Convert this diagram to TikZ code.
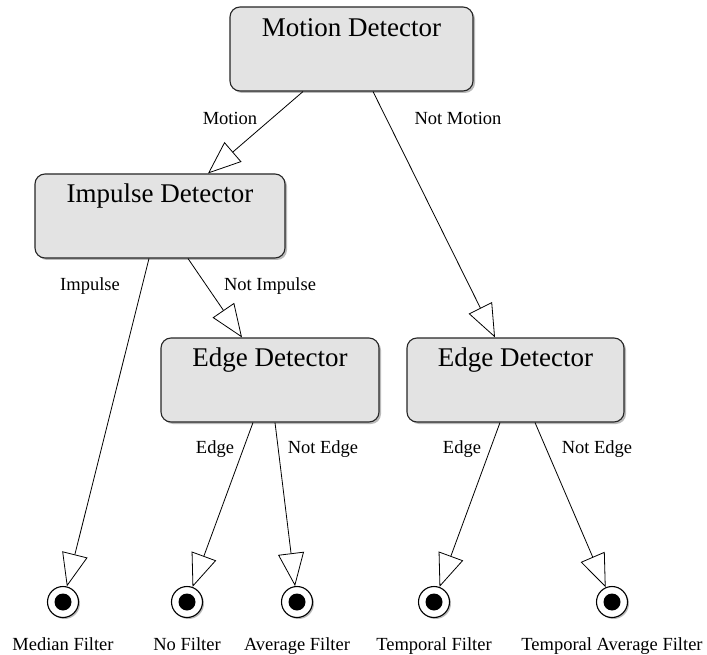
\documentclass[tikz,border=0pt]{standalone}
\usepackage{fontspec}
\setmainfont{Liberation Serif}
\usetikzlibrary{arrows.meta,shadows}

\tikzset{
  detector/.style={draw=black!85,line width=1.1pt,rounded corners=10pt,fill=black!11,
    inner sep=0pt,drop shadow={shadow xshift=2pt,shadow yshift=-2pt,fill=black!45,opacity=0.6}},
  title/.style={anchor=base,font=\fontsize{27}{30}\selectfont},
  guard/.style={font=\fontsize{18.5}{20}\selectfont},
  final/.style={circle,draw=black,line width=1.1pt,fill=white,minimum size=31pt,inner sep=0pt,
    drop shadow={shadow xshift=1.5pt,shadow yshift=-1.5pt,fill=black!45,opacity=0.6},
    path picture={\fill[black] (path picture bounding box.center) circle (8.5pt);}},
  trans/.style={line width=0.8pt,-{Triangle[length=33pt,width=26pt,fill=white,line width=0.8pt]}}
}

\begin{document}
\begin{tikzpicture}[x=1pt,y=-1pt]
\useasboundingbox (0,0) rectangle (707,655);

% decision boxes
\node[detector,minimum width=243pt,minimum height=84pt] (motion) at (351.5,49) {};
\node[title] (motiont) at ([yshift=-30pt]motion.north) {Motion Detector};

\node[detector,minimum width=250pt,minimum height=84pt] (impulse) at (160,216) {};
\node[title] (impulset) at ([yshift=-29pt]impulse.north) {Impulse Detector};

\node[detector,minimum width=218pt,minimum height=84pt] (edgea) at (270,380) {};
\node[title] (edgeat) at ([yshift=-29pt]edgea.north) {Edge Detector};

\node[detector,minimum width=217pt,minimum height=84pt] (edgeb) at (515.5,380) {};
\node[title] (edgebt) at ([yshift=-29pt]edgeb.north) {Edge Detector};

%---------------------------------
% filters
\node[final] (median) at (63,602) {};
\node[final] (nofilter) at (187,602) {};
\node[final] (average) at (297,602) {};
\node[final] (temporal) at (434,602) {};
\node[final] (tempavg) at (612,602) {};

\node[guard,anchor=base] (medianl) at (63,650) {Median Filter};
\node[guard,anchor=base] (nofilterl) at (187,650) {No Filter};
\node[guard,anchor=base] (averagel) at (297,650) {Average Filter};
\node[guard,anchor=base] (temporall) at (434,650) {Temporal Filter};
\node[guard,anchor=base] (tempavgl) at (612,650) {Temporal Average Filter};

%---------------------------------
% transitions
\draw[trans] ([xshift=-48.5pt]motion.south) -- ([xshift=48pt]impulse.north);
\node[guard] (motionl) at (230,118) {Motion};
\draw[trans] ([xshift=21.5pt]motion.south) -- ([xshift=-20.5pt]edgeb.north);
\node[guard] (notmotionl) at (458,118) {Not Motion};

\draw[trans] ([xshift=-11pt]impulse.south) -- (median);
\node[guard] (impulsel) at (90,286) {Impulse};
\draw[trans] ([xshift=28pt]impulse.south) -- ([xshift=-28pt]edgea.north);
\node[guard] (notimpulsel) at (270,286) {Not Impulse};

\draw[trans] ([xshift=-17pt]edgea.south) -- (nofilter);
\node[guard] (edgeal) at (215,449) {Edge};
\draw[trans] ([xshift=5pt]edgea.south) -- (average);
\node[guard] (notedgeal) at (323,449) {Not Edge};

\draw[trans] ([xshift=-15.5pt]edgeb.south) -- (temporal);
\node[guard] (edgebl) at (462,449) {Edge};
\draw[trans] ([xshift=19.5pt]edgeb.south) -- (tempavg);
\node[guard] (notedgebl) at (597,449) {Not Edge};
\end{tikzpicture}
\end{document}
